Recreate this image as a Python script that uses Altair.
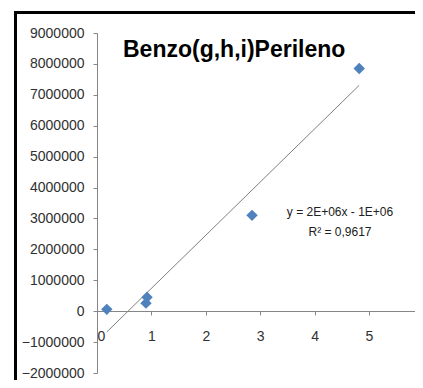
import altair as alt
import pandas as pd

# Data
conc = [0.18, 0.90, 0.92, 2.85, 4.82]
area = [60000, 260000, 450000, 3100000, 7850000]

x_ticks = [0, 1, 2, 3, 4, 5, 6]
y_ticks = [-2000000, -1000000, 0, 1000000, 2000000, 3000000, 4000000,
           5000000, 6000000, 7000000, 8000000, 9000000]

title_text = "Benzo(g,h,i)Perileno"
eq_line1 = "y = 2E+06x - 1E+06"
eq_line2 = "R² = 0,9617"

df = pd.DataFrame({"x": conc, "y": area})
one = pd.DataFrame({"a": [0]})

PX_PER_X = 54.4
W, H = 318, 340
X_MAX = W / PX_PER_X
FONT = "Liberation Sans"

xs = alt.Scale(domain=[0, X_MAX], nice=False, zero=False)
ys = alt.Scale(domain=[-2000000, 9000000], nice=False, zero=False)

x_axis = alt.Axis(values=x_ticks, title=None, offset=-62, tickSize=4,
                  labelPadding=14, grid=False, format="d")
y_axis = alt.Axis(values=y_ticks, title=None, tickSize=4, labelPadding=9,
                  grid=False, format="d")

frame_left = alt.Chart(one).mark_rect(color="black", clip=False).encode(
    x=alt.value(-83), x2=alt.value(-80), y=alt.value(-22), y2=alt.value(H + 10)
)

frame_top = alt.Chart(one).mark_rect(color="black", clip=False).encode(
    x=alt.value(-83), x2=alt.value(W), y=alt.value(-22), y2=alt.value(-19)
)

base = alt.Chart(df)

points = base.mark_point(
    shape="diamond", filled=True, color="#4F81BD", size=130, opacity=1
).encode(
    x=alt.X("x:Q", scale=xs, axis=x_axis),
    y=alt.Y("y:Q", scale=ys, axis=y_axis),
)

trend = base.transform_regression("x", "y", method="linear").mark_line(
    color="#808080", strokeWidth=1
).encode(
    x=alt.X("x:Q", scale=xs, axis=x_axis),
    y=alt.Y("y:Q", scale=ys, axis=y_axis),
)

title = alt.Chart(one).mark_text(
    text=title_text, font=FONT, fontSize=23, fontWeight="bold",
    align="left", baseline="alphabetic", color="black"
).encode(x=alt.value(26), y=alt.value(24))

eq1 = alt.Chart(one).mark_text(
    text=eq_line1, font=FONT, fontSize=12, align="center", baseline="middle",
    color="#202020"
).encode(x=alt.value(243), y=alt.value(179))

eq2 = alt.Chart(one).mark_text(
    text=eq_line2, font=FONT, fontSize=12, align="center", baseline="middle",
    color="#202020"
).encode(x=alt.value(243), y=alt.value(199))

chart = alt.layer(frame_left, frame_top, trend, points, title, eq1, eq2).properties(
    width=W, height=H,
    background="white",
    autosize=alt.AutoSizeParams(type="none"),
    padding={"left": 89, "top": 25, "right": 0, "bottom": 7},
).configure_view(stroke=None).configure_axis(
    domainColor="#868686", tickColor="#868686", labelColor="#303030",
    labelFont=FONT, labelFontSize=14, domainWidth=1, tickWidth=1,
    grid=False, title=None,
)

chart.save("out.html", embed_options={"renderer": "svg", "actions": False})
